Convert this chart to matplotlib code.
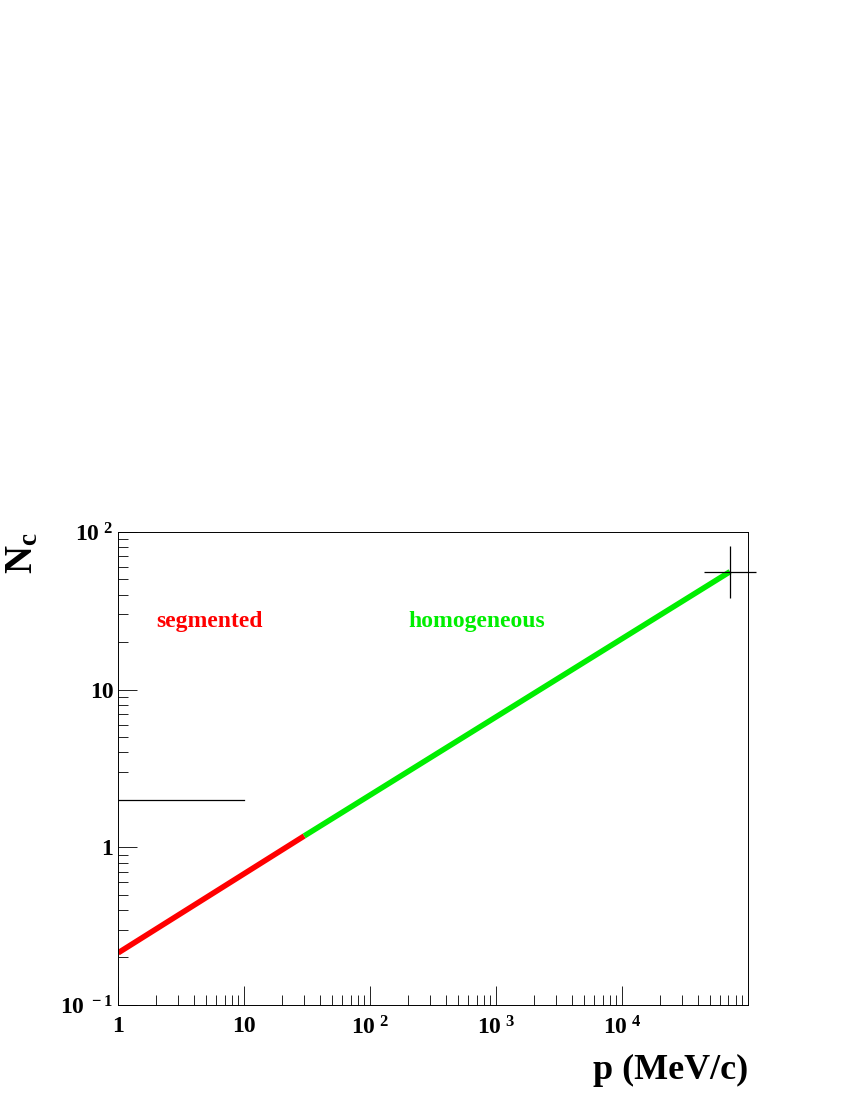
import matplotlib
matplotlib.use("Agg")
import matplotlib.pyplot as plt
from matplotlib.ticker import FixedLocator, FixedFormatter, LogLocator, NullFormatter

plt.rcParams['font.family'] = 'Liberation Serif'
plt.rcParams['font.weight'] = 'bold'
plt.rcParams['mathtext.fontset'] = 'custom'
plt.rcParams['mathtext.rm'] = 'Liberation Serif:bold'
plt.rcParams['mathtext.bf'] = 'Liberation Serif:bold'
plt.rcParams['mathtext.it'] = 'Liberation Serif:bold'

seg_p = [1, 30]
seg_n = [0.214, 1.18]
hom_p = [30, 72000]
hom_n = [1.18, 56]
ref_line_p = [1, 10]
ref_line_n = [2.0, 2.0]
marker_p = [72000]
marker_n = [56]

x_ticks = [1, 10, 100, 1000, 10000]
x_labels = ["1", "10", "10$^{\\ 2}$", "10$^{\\ 3}$", "10$^{\\ 4}$"]
y_ticks = [0.1, 1, 10, 100]
y_labels = ["10$^{\\ -1}$", "1", "10", "10$^{\\ 2}$"]

fig = plt.figure(figsize=(8.5, 11), dpi=100)
ax = fig.add_axes([0.139, 0.0864, 0.741, 0.43])
ax.set_xscale('log'); ax.set_yscale('log')
ax.set_xlim(1, 1e5); ax.set_ylim(0.1, 100)

ax.plot(seg_p, seg_n, color='#ff0000', lw=4, solid_capstyle='butt')
ax.plot(hom_p, hom_n, color='#00ee00', lw=4, solid_capstyle='butt')
ax.plot(ref_line_p, ref_line_n, color='black', lw=0.9)
ax.plot(marker_p, marker_n, marker='+', color='black', ms=38, mew=0.9, ls='none', clip_on=False)

ax.text(2, 25, "segmented", color='#ff0000', fontsize=17, weight='bold')
ax.text(200, 25, "homogeneous", color='#00ee00', fontsize=17, weight='bold')

ax.xaxis.set_major_locator(FixedLocator(x_ticks))
ax.xaxis.set_major_formatter(FixedFormatter(x_labels))
ax.yaxis.set_major_locator(FixedLocator(y_ticks))
ax.yaxis.set_major_formatter(FixedFormatter(y_labels))
ax.xaxis.set_minor_locator(LogLocator(base=10, subs=range(2, 10), numticks=20))
ax.yaxis.set_minor_locator(LogLocator(base=10, subs=range(2, 10), numticks=20))
ax.xaxis.set_minor_formatter(NullFormatter())
ax.yaxis.set_minor_formatter(NullFormatter())
ax.tick_params(which='both', direction='in', top=False, right=False, labelsize=17, width=0.6)
ax.tick_params(which='major', length=14)
ax.tick_params(which='minor', length=7)
ax.tick_params(axis='x', pad=8)
for s in ax.spines.values():
    s.set_linewidth(0.7)

fig.text(0.88, 0.012, "p (MeV/c)", ha='right', va='bottom', fontsize=26, weight='bold')
fig.text(0.005, 0.516, "N$_{c}$", ha='left', va='top', fontsize=28, weight='bold', rotation=90)

fig.savefig("out.png", dpi=100)
